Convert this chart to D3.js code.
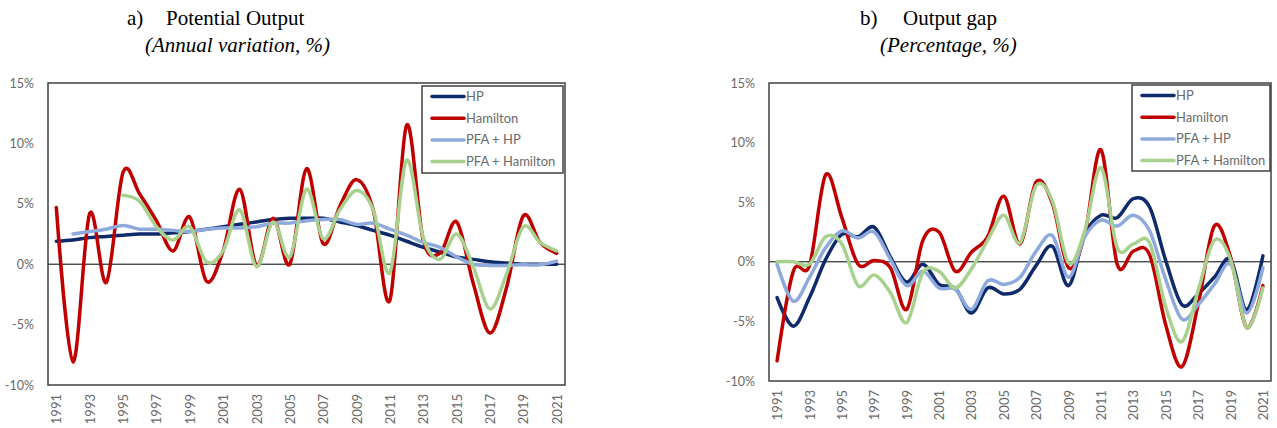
<!DOCTYPE html>
<html>
<head>
<meta charset="utf-8">
<script src="https://cdn.jsdelivr.net/npm/d3@7"></script>
<style>
  html, body { margin: 0; padding: 0; background: #fff; }
  svg { display: block; }
  .tick text { font-family: Lato, "Open Sans", sans-serif; fill: #6a6a6a; }
</style>
</head>
<body>
<svg id="chart" width="1277" height="428"></svg>
<script>
// Years on the category axis
const years = d3.range(1991, 2022);
const yearTicks = years.filter(y => (y - 1991) % 2 === 0);
const yTicks = [-10, -5, 0, 5, 10, 15];
const seriesNames = ["HP", "Hamilton", "PFA + HP", "PFA + Hamilton"];
const seriesColors = ["#0E2A6B", "#C00000", "#8EA9DB", "#A9D18E"];

// a) Potential output, annual variation (%)
const potHP = [1.9, 2.0, 2.2, 2.3, 2.4, 2.5, 2.5, 2.6, 2.7, 2.9, 3.1, 3.3, 3.5, 3.7, 3.8, 3.8, 3.8, 3.5, 3.2, 2.8,
  2.4, 1.9, 1.4, 1.0, 0.6, 0.4, 0.2, 0.1, 0.0, 0.0, 0.0];
const potHamilton = [4.7, -8.1, 4.2, -1.5, 7.6, 5.8, 3.6, 1.1, 3.9, -1.4, 1.1, 6.2, -0.1, 3.8, 0.0, 7.9, 1.7, 4.8, 7.0, 4.5,
  -3.0, 11.5, 2.0, 0.9, 3.5, -1.6, -5.7, -1.9, 4.0, 1.8, 0.9];
const potPfaHP = [null, 2.5, 2.7, 2.9, 3.2, 2.9, 2.9, 2.8, 2.7, 2.9, 3.0, 3.0, 3.1, 3.4, 3.4, 3.6, 3.7, 3.7, 3.3, 3.4,
  2.9, 2.4, 1.8, 1.4, 0.6, 0.0, -0.1, -0.1, -0.05, -0.05, 0.25];
const potPfaHamilton = [null, null, null, null, 5.7, 5.2, 3.1, 2.0, 3.1, 0.2, 1.1, 4.5, -0.2, 3.5, 0.6, 6.2, 2.1, 4.5, 6.1, 4.5,
  -0.7, 8.6, 2.2, 0.4, 2.5, -0.2, -3.7, -0.8, 3.1, 1.8, 1.1];

// b) Output gap (%)
const gapHP = [-3.0, -5.4, -3.0, 0.2, 2.3, 2.1, 2.9, 0.4, -1.7, -0.2, -1.9, -2.2, -4.3, -2.2, -2.7, -2.3, -0.3, 1.3, -2.0, 2.3,
  3.9, 3.7, 5.3, 4.6, 0.1, -3.6, -2.7, -1.3, 0.2, -4.0, 0.5];
const gapHamilton = [-8.3, -0.8, -0.3, 7.3, 3.7, -0.2, 0.1, -0.5, -4.0, 1.8, 2.5, -0.8, 0.8, 2.1, 5.5, 1.5, 6.7, 4.9, -0.5, 2.3,
  9.4, -0.2, 0.9, 0.6, -5.3, -8.8, -3.6, 3.0, 0.4, -5.5, -2.0];
const gapPfaHP = [-0.2, -3.3, -1.3, 1.2, 2.6, 2.0, 2.5, 0.2, -2.0, -0.8, -2.2, -2.3, -4.0, -1.6, -1.9, -1.3, 0.9, 2.2, -1.3, 2.1,
  3.5, 3.0, 3.9, 2.6, -1.5, -4.8, -3.6, -1.9, -0.2, -4.3, -0.5];
const gapPfaHamilton = [0.0, 0.0, -0.2, 2.1, 1.5, -2.0, -1.1, -2.6, -5.1, -0.9, -0.8, -2.2, -0.6, 1.8, 3.9, 1.6, 6.4, 5.1, -0.1, 2.6,
  7.9, 1.2, 1.5, 1.6, -3.8, -6.7, -2.4, 1.8, 0.2, -5.5, -2.2];

const svg = d3.select("#chart");

const panels = [
  {
    label: "a)", title: "Potential Output", subtitle: "(Annual variation, %)",
    labelX: 127, titleX: 166, subX: 145,
    box: { left: 48, top: 83, right: 565, bottom: 385 },
    legend: { x: 422, y: 86, w: 141, h: 87 },
    series: [potHP, potHamilton, potPfaHP, potPfaHamilton]
  },
  {
    label: "b)", title: "Output gap", subtitle: "(Percentage, %)",
    labelX: 860, titleX: 903, subX: 880,
    box: { left: 769, top: 83, right: 1271, bottom: 381 },
    legend: { x: 1132, y: 85, w: 138, h: 86 },
    series: [gapHP, gapHamilton, gapPfaHP, gapPfaHamilton]
  }
];

panels.forEach(p => {
  const b = p.box;
  const x = d3.scalePoint().domain(years).range([b.left, b.right]).padding(0.5);
  const y = d3.scaleLinear().domain([-10, 15]).range([b.bottom, b.top]);

  // Titles
  const t = svg.append("g").attr("font-family", "'Liberation Serif', 'Times New Roman', serif")
    .attr("font-size", 21).attr("fill", "#000");
  t.append("text").attr("x", p.labelX).attr("y", 25).text(p.label);
  t.append("text").attr("x", p.titleX).attr("y", 25).text(p.title);
  t.append("text").attr("x", p.subX).attr("y", 52).attr("font-style", "italic").text(p.subtitle);

  // Y axis labels
  svg.append("g")
    .attr("transform", `translate(${b.left},0)`)
    .call(d3.axisLeft(y).tickValues(yTicks).tickFormat(d => d + "%").tickSize(0).tickPadding(14))
    .call(g => g.select(".domain").remove())
    .selectAll("text").attr("font-size", 12.5);

  // X axis labels, rotated
  svg.append("g")
    .attr("transform", `translate(0,${b.bottom})`)
    .call(d3.axisBottom(x).tickValues(yearTicks).tickSize(0))
    .call(g => g.select(".domain").remove())
    .selectAll("text")
    .attr("font-size", 13)
    .attr("transform", "rotate(-90)")
    .attr("text-anchor", "end")
    .attr("x", -9)
    .attr("y", 0)
    .attr("dy", "0.35em");

  // Zero line
  svg.append("line")
    .attr("x1", b.left).attr("x2", b.right)
    .attr("y1", y(0)).attr("y2", y(0))
    .attr("stroke", "#000").attr("stroke-width", 1);

  // Series lines (smoothed)
  const line = d3.line()
    .x(d => x(d.year))
    .y(d => y(d.value))
    .curve(d3.curveCatmullRom.alpha(0));

  p.series.forEach((vals, i) => {
    const data = years.map((yr, k) => ({ year: yr, value: vals[k] })).filter(d => d.value !== null);
    svg.append("path")
      .datum(data)
      .attr("d", line)
      .attr("fill", "none")
      .attr("stroke", seriesColors[i])
      .attr("stroke-width", 3.5)
      .attr("stroke-linejoin", "round")
      .attr("stroke-linecap", "round");
  });

  // Plot frame
  svg.append("rect")
    .attr("x", b.left).attr("y", b.top)
    .attr("width", b.right - b.left).attr("height", b.bottom - b.top)
    .attr("fill", "none").attr("stroke", "#404040").attr("stroke-width", 1.5);

  // Legend
  const L = p.legend;
  const lg = svg.append("g");
  lg.append("rect")
    .attr("x", L.x).attr("y", L.y).attr("width", L.w).attr("height", L.h)
    .attr("fill", "#fff").attr("stroke", "#404040").attr("stroke-width", 1.5);
  seriesNames.forEach((name, i) => {
    const yy = L.y + 10.5 + i * 21.7;
    lg.append("line")
      .attr("x1", L.x + 10).attr("x2", L.x + 42)
      .attr("y1", yy).attr("y2", yy)
      .attr("stroke", seriesColors[i]).attr("stroke-width", 3.5)
      .attr("stroke-linecap", "round");
    lg.append("text")
      .attr("x", L.x + 44).attr("y", yy).attr("dy", "0.35em")
      .attr("font-family", "Lato, 'Open Sans', sans-serif")
      .attr("font-size", 13).attr("fill", "#6a6a6a")
      .text(name);
  });
});
</script>
</body>
</html>
